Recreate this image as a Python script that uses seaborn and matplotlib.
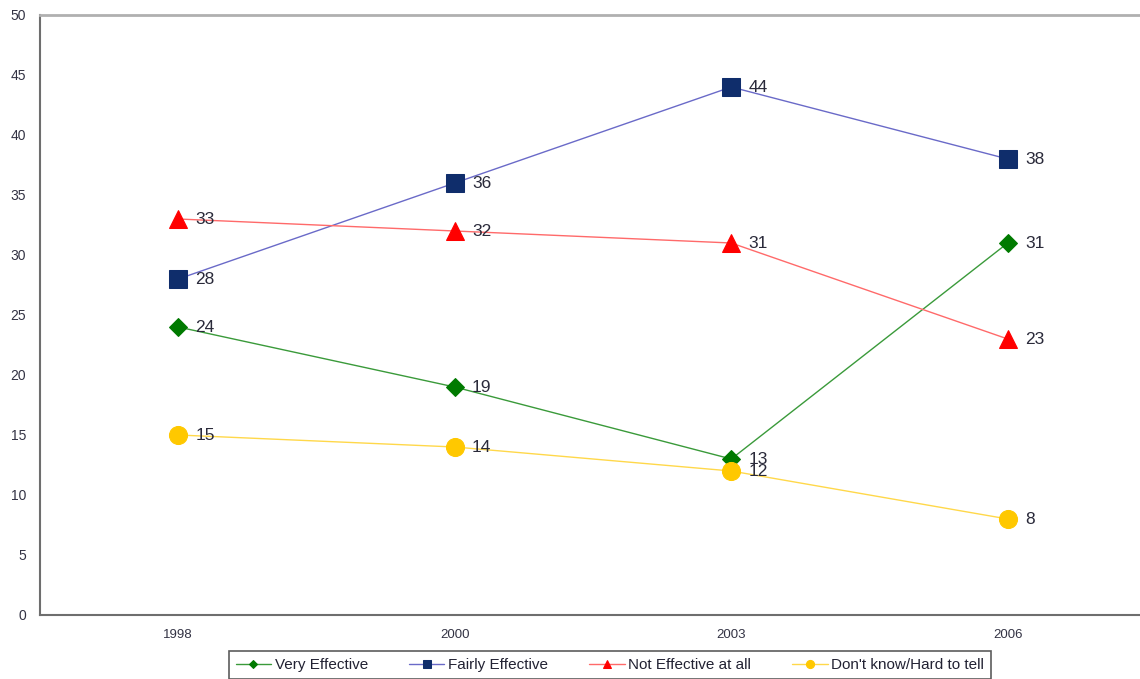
import pandas as pd
import matplotlib.pyplot as plt
import seaborn as sns
from matplotlib.ticker import FixedLocator

years = ["1998", "2000", "2003", "2006"]
very_effective = [24, 19, 13, 31]
fairly_effective = [28, 36, 44, 38]
not_effective = [33, 32, 31, 23]
dont_know = [15, 14, 12, 8]

df = pd.DataFrame({
    "year": years,
    "Very Effective": very_effective,
    "Fairly Effective": fairly_effective,
    "Not Effective at all": not_effective,
    "Don't know/Hard to tell": dont_know,
})

# series -> (line colour, marker colour, marker, marker size)
styles = {
    "Very Effective": ("#3a9a3a", "#007a00", "D", 9.5),
    "Fairly Effective": ("#6a6ac8", "#0f2d6b", "s", 13),
    "Not Effective at all": ("#ff6a6a", "#ff0000", "^", 13.5),
    "Don't know/Hard to tell": ("#ffd84a", "#ffc800", "o", 13),
}

sns.set_style("white")
plt.rcParams["font.family"] = ["Liberation Sans", "DejaVu Sans"]

fig = plt.figure(figsize=(11.4, 6.79), dpi=100)
ax = fig.add_axes([40 / 1140, 1 - 615 / 679, 4 * 276.5 / 1140, 600 / 679])

for name, (lc, mc, mk, ms) in styles.items():
    sns.lineplot(data=df, x="year", y=name, ax=ax, color=lc, linewidth=1.0,
                 marker=mk, markersize=ms, markerfacecolor=mc,
                 markeredgecolor=mc, label=name, sort=False)
    for i, v in enumerate(df[name]):
        ax.text(i + 0.062, v, str(v), va="center", ha="left",
                fontsize=12.5, color="#2a2a3a")

ax.set_xlim(-0.5, len(years) - 0.5)
ax.set_ylim(0, 50)
ax.set_yticks(range(0, 51, 5))
ax.set_xlabel("")
ax.set_ylabel("")

ax.xaxis.set_minor_locator(FixedLocator([0.5, 1.5, 2.5]))
ax.tick_params(axis="x", which="major", length=0, labelsize=9.5, colors="#333344", pad=10)
ax.tick_params(axis="x", which="minor", length=4, width=1, color="#666666")
ax.tick_params(axis="y", length=4, width=1, color="#888888", labelsize=10,
               labelcolor="#333344", pad=6)
ax.tick_params(axis="both", direction="out")

for side in ["left", "bottom"]:
    ax.spines[side].set_color("#6e6e6e")
    ax.spines[side].set_linewidth(1.5)
ax.spines["top"].set_color("#b0b0b0")
ax.spines["top"].set_linewidth(2)
ax.spines["right"].set_visible(False)

leg = ax.legend(loc="upper center", bbox_to_anchor=(610 / 1140, 1 - 651 / 679),
                bbox_transform=fig.transFigure, ncol=4, fontsize=11,
                frameon=True, fancybox=False, edgecolor="#333333",
                markerscale=0.45, handlelength=2.3, columnspacing=2.7,
                borderpad=0.45, handletextpad=0.25, borderaxespad=0)
leg.get_frame().set_linewidth(1.2)
for t in leg.get_texts():
    t.set_color("#222233")

fig.savefig("out.png", dpi=100)
